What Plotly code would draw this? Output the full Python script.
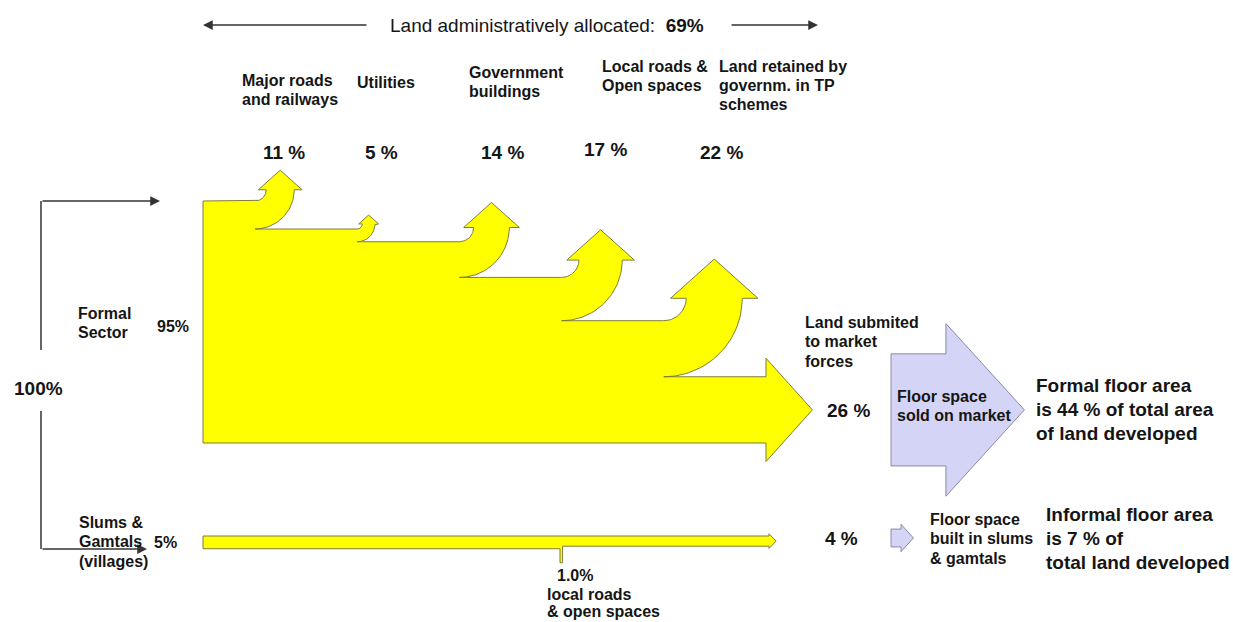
import numpy as np
import plotly.graph_objects as go

# ---------------- data ----------------
total_pct = 100
formal_pct = 95
slum_pct = 5
admin_pct = 69
alloc_names = [["Major roads", "and railways"], ["Utilities"], ["Government", "buildings"],
               ["Local roads &", "Open spaces"], ["Land retained by", "governm. in TP", "schemes"]]
alloc_pct = [11, 5, 14, 17, 22]
market_pct = 26
slum_roads_pct = 1.0
slum_net_pct = 4
formal_floor_pct = 44
informal_floor_pct = 7

# ---------------- layout constants ----------------
W, H = 1233, 622
FONT = "Liberation Sans, Arial, Helvetica, sans-serif"
TXT = "#151515"
YELLOW = "#FFFF00"
YEDGE = "#7d7d3c"
LAV = "#D4D4F6"
LEDGE = "#8a8aa6"
PX = 242.0 / formal_pct          # pixels per percent of land
X0, Y0 = 203, 201                # left/top of the formal band
TURN_X0, TURN_DX = 255, 102.2    # where each branch turns upward
BEND = 0.4                        # inner bend radius / width
HEAD_OH = 0.28                    # arrow-head overhang / width
HEAD_LEN = 0.7                    # arrow-head length / width

fig = go.Figure()


def poly(xs, ys, fill, line, lw=1.0):
    fig.add_trace(go.Scatter(x=list(xs) + [xs[0]], y=list(ys) + [ys[0]], mode="lines",
                             fill="toself", fillcolor=fill, line=dict(color=line, width=lw),
                             hoverinfo="skip", showlegend=False))


def text(x, y0, lines, size=16, step=19.5, bold=True, anchor="left"):
    for k, s in enumerate(lines):
        fig.add_annotation(x=x, y=y0 + k * step, text=f"<b>{s}</b>" if bold else s,
                           showarrow=False, xanchor=anchor, yanchor="middle",
                           font=dict(family=FONT, size=size, color=TXT))


# ---------------- formal sector band with branching arrows ----------------
pts = [(X0, Y0)]
yt = Y0
for i, p in enumerate(alloc_pct):
    w = p * PX
    r = BEND * w
    xt = TURN_X0 + i * TURN_DX
    cx, cy = xt, yt - r
    oh, hl = HEAD_OH * w, HEAD_LEN * w
    pts.append((xt, yt))
    for t in np.linspace(0, np.pi / 2, 24):
        pts.append((cx + r * np.sin(t), cy + r * np.cos(t)))
    pts += [(cx + r - oh, cy), (cx + r + w / 2, cy - hl), (cx + r + w + oh, cy), (cx + r + w, cy)]
    R = r + w
    for t in np.linspace(np.pi / 2, 0, 40):
        pts.append((cx + R * np.sin(t), cy + R * np.cos(t)))
    yt += w

w = market_pct * PX
xh = TURN_X0 + len(alloc_pct) * TURN_DX
oh, hl = HEAD_OH * w, HEAD_LEN * w
pts += [(xh, yt), (xh, yt - oh), (xh + hl, yt + w / 2), (xh, yt + w + oh), (xh, yt + w), (X0, yt + w)]
poly([q[0] for q in pts], [q[1] for q in pts], YELLOW, YEDGE, 1.0)
market_cy = yt + w / 2

# ---------------- slum band ----------------
SY0 = 536
ws = slum_pct * PX
wn = slum_net_pct * PX
stub_x = 560
xs_head = 769
oh, hl = 0.22 * wn, HEAD_LEN * wn
sx = [X0, xs_head, xs_head, xs_head + hl, xs_head, xs_head, stub_x + slum_roads_pct * PX, stub_x + slum_roads_pct * PX,
      stub_x, stub_x, X0]
sy = [SY0, SY0, SY0 - oh, SY0 + wn / 2, SY0 + wn + oh, SY0 + wn, SY0 + wn, SY0 + ws + 14, SY0 + ws + 14, SY0 + ws,
      SY0 + ws]
poly(sx, sy, YELLOW, YEDGE, 1.0)

# ---------------- floor space arrows (lavender) ----------------
def block_arrow(xl, cy, h, shaft):
    oh, hl = 0.27 * h, HEAD_LEN * h
    xb = xl + shaft
    xs = [xl, xb, xb, xb + hl, xb, xb, xl]
    ys = [cy - h / 2, cy - h / 2, cy - h / 2 - oh, cy, cy + h / 2 + oh, cy + h / 2, cy + h / 2]
    poly(xs, ys, LAV, LEDGE, 1.0)

block_arrow(891, market_cy, formal_floor_pct * PX, 0.49 * formal_floor_pct * PX)
block_arrow(891, 538, informal_floor_pct * PX, 0.56 * informal_floor_pct * PX)

# ---------------- connector lines ----------------
LC = "#333333"
fig.add_trace(go.Scatter(x=[41, 41], y=[350, Y0], mode="lines", line=dict(color=LC, width=1.5),
                         hoverinfo="skip", showlegend=False))
fig.add_trace(go.Scatter(x=[41, 41], y=[411, 549], mode="lines", line=dict(color=LC, width=1.5),
                         hoverinfo="skip", showlegend=False))


def arrow(x1, y1, x0, y0):
    fig.add_annotation(x=x1, y=y1, ax=x0, ay=y0, xref="x", yref="y", axref="x", ayref="y",
                       showarrow=True, arrowhead=2, arrowsize=1.3, arrowwidth=1.5,
                       arrowcolor=LC, text="", standoff=0)


arrow(160, Y0, 41, Y0)
arrow(147, 549, 41, 549)
arrow(203, 25, 368, 25)
arrow(818, 25, 730, 25)

# ---------------- texts ----------------
fig.add_annotation(x=388, y=25, text=f"Land administratively allocated:  <b>{admin_pct}%</b>",
                   showarrow=False, xanchor="left", yanchor="middle",
                   font=dict(family=FONT, size=19, color=TXT))

label_x = [240, 355, 467, 600, 717]
label_y = [80, 82, 72, 66, 66]
pct_x = [284, 381, 502, 605, 721]
pct_y = [152, 152, 152, 149, 152]
for i in range(len(alloc_pct)):
    text(label_x[i], label_y[i], alloc_names[i], 16, 19)
    text(pct_x[i], pct_y[i], [f"{alloc_pct[i]} %"], 19, anchor="center")

text(12, 388, [f"{total_pct}%"], 19)
text(76, 313, ["Formal", "Sector"], 16, 19.5)
text(155, 326, [f"{formal_pct}%"], 16)
text(77, 522, ["Slums &", "Gamtals", "(villages)"], 16, 19.5)
text(152, 542, [f"{slum_pct}%"], 16)
text(555, 575, [f"{slum_roads_pct:.1f}%"], 16)
text(545, 594, ["local roads", "& open spaces"], 16, 17)

text(803, 322, ["Land submited", "to market", "forces"], 16, 19.5)
text(825, 410, [f"{market_pct} %"], 19)
text(895, 396, ["Floor space", "sold on market"], 16, 19.5)
text(1034, 385, ["Formal floor area", f"is {formal_floor_pct} % of total area", "of land developed"], 19, 24)

text(823, 538, [f"{slum_net_pct} %"], 19)
text(928, 519, ["Floor space", "built in slums", "& gamtals"], 16, 19.5)
text(1044, 514, ["Informal floor area", f"is {informal_floor_pct} % of", "total land developed"], 19, 24)

fig.update_layout(width=W, height=H, margin=dict(l=0, r=0, t=0, b=0),
                  paper_bgcolor="white", plot_bgcolor="white", showlegend=False,
                  xaxis=dict(range=[0, W], visible=False, fixedrange=True),
                  yaxis=dict(range=[H, 0], visible=False, fixedrange=True))
fig.write_html("out.html", config={"displayModeBar": False})
